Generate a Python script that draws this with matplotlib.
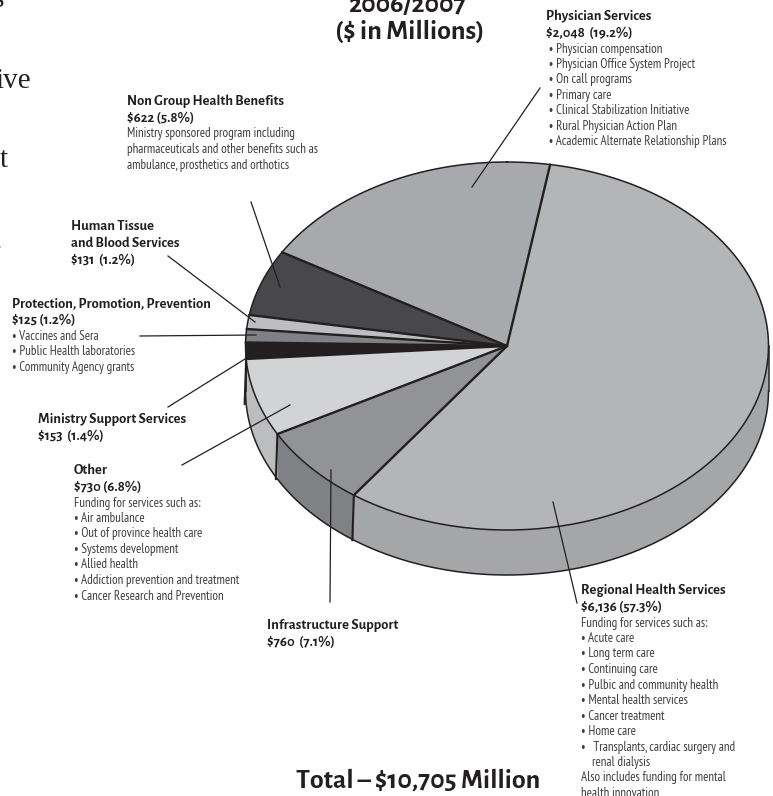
#!/usr/bin/env python3
"""Health budget pie for 2006/2007, drawn as a tilted disc with callouts."""

import numpy as np
import matplotlib

matplotlib.use("Agg")
import matplotlib.pyplot as plt

categories = [
    "Regional Health Services",
    "Infrastructure Support",
    "Other",
    "Ministry Support Services",
    "Protection, Promotion, Prevention",
    "Human Tissue and Blood Services",
    "Non Group Health Benefits",
    "Physician Services",
]
amounts = [6136, 760, 730, 153, 125, 131, 622, 2048]
shares = ["57.3%", "7.1%", "6.8%", "1.4%", "1.2%", "1.2%", "5.8%", "19.2%"]

regional_notes = [
    "Funding for services such as:",
    "• Acute care",
    "• Long term care",
    "• Continuing care",
    "• Pulbic and community health",
    "• Mental health services",
    "• Cancer treatment",
    "• Home care",
    "•   Transplants, cardiac surgery and",
    "    renal dialysis",
    "Also includes funding for mental",
    "health innovation",
]
other_notes = [
    "Funding for services such as:",
    "• Air ambulance",
    "• Out of province health care",
    "• Systems development",
    "• Allied health",
    "• Addiction prevention and treatment",
    "• Cancer Research and Prevention",
]
protection_notes = [
    "• Vaccines and Sera",
    "• Public Health laboratories",
    "• Community Agency grants",
]
benefit_notes = [
    "Ministry sponsored program including",
    "pharmaceuticals and other benefits such as",
    "ambulance, prosthetics and orthotics",
]
physician_notes = [
    " • Physician compensation",
    " • Physician Office System Project",
    " • On call programs",
    " • Primary care",
    " • Clinical Stabilization Initiative",
    " • Rural Physician Action Plan",
    " • Academic Alternate Relationship Plans",
]

top_colors = ["#b4b5b7", "#929396", "#d2d3d5", "#231f20",
              "#808184", "#bcbec0", "#48484a", "#a7a9ac"]
side_colors = ["#a5a6a8", "#808184", "#bcbdbf", "#231f20",
               "#6d6e71", "#a7a9ac", "#3a3a3c", "#939598"]

INK = "#231f20"
BODY = "#3f3f41"
FONT = ["Alegreya Sans", "Lato"]
NOTE_FONT = ["PT Sans Narrow", "Open Sans Condensed", "Lato"]

# Disc geometry, in figure pixels
CX, CY = 507.0, 346.0
RX, RY = 261.5, 184.0
DEPTH = 45.0
START = 9.5  # degrees clockwise from twelve o'clock


def rim(t_deg, drop=0.0):
    t = np.radians(t_deg)
    return CX + RX * np.sin(t), CY - RY * np.cos(t) + drop


def callout(ax, x, y, heads, notes=(), head_size=10.5, note_size=9.3, gap=15.5):
    for line in heads:
        ax.text(x, y, line, fontsize=head_size, fontweight="bold", color=INK,
                family=FONT, va="baseline")
        y += 17
    y -= 1.5
    for line in notes:
        ax.text(x, y, line, fontsize=note_size, color=BODY, family=NOTE_FONT, va="baseline")
        y += gap


def main():
    fig = plt.figure(figsize=(7.73, 7.96), dpi=100)
    ax = fig.add_axes([0, 0, 1, 1])
    ax.set_xlim(0, 773)
    ax.set_ylim(796, 0)
    ax.axis("off")

    sweep = np.array(amounts) / sum(amounts) * 360.0
    edges = START + np.concatenate([[0], np.cumsum(sweep)])

    # Side wall: only the part of the rim facing the viewer shows
    for i in range(len(amounts)):
        a, b = max(edges[i], 90.0), min(edges[i + 1], 270.0)
        if a >= b:
            continue
        t = np.linspace(a, b, 120)
        xs, ys = rim(t)
        xs2, ys2 = rim(t[::-1], DEPTH)
        ax.fill(np.r_[xs, xs2], np.r_[ys, ys2], color=side_colors[i], lw=0, zorder=1)
        if 90.0 < edges[i] < 270.0:
            x0, y0 = rim(edges[i])
            ax.plot([x0, x0 - 1.5], [y0, y0 + DEPTH], color=INK, lw=1.5, zorder=2)

    t = np.linspace(90, 270, 300)
    ax.plot(*rim(t, DEPTH), color=INK, lw=1.1, zorder=2)
    ax.plot(*rim(np.array([90.0, 90.0]), np.array([0.0, DEPTH])), color=INK, lw=1.1, zorder=2)
    ax.plot(*rim(np.array([270.0, 270.0]), np.array([0.0, DEPTH])), color=INK, lw=1.1, zorder=2)

    # Top face
    for i in range(len(amounts)):
        t = np.linspace(edges[i], edges[i + 1], 200)
        xs, ys = rim(t)
        ax.fill(np.r_[CX, xs], np.r_[CY, ys], color=top_colors[i], lw=0, zorder=3)
    for e in edges[:-1]:
        x0, y0 = rim(e)
        ax.plot([CX, x0], [CY, y0], color=INK, lw=1.7, zorder=4, solid_capstyle="round")
    t = np.linspace(0, 360, 600)
    ax.plot(*rim(t), color=INK, lw=1.1, zorder=4)

    # Leader lines
    leaders = [
        ((472, 187), (540, 88)),
        ((251, 202), (280, 287)),
        ((168, 256), (255, 322)),
        ((140, 336), (256, 335)),
        ((168, 407), (245, 359)),
        ((182, 465), (290, 405)),
        ((331, 470), (330, 602)),
        ((553, 502), (577, 603)),
    ]
    for p, q in leaders:
        ax.plot([p[0], q[0]], [p[1], q[1]], color=INK, lw=0.9, zorder=5)

    def money(i, sep="  "):
        return f"${amounts[i]:,}{sep}({shares[i]})"

    callout(ax, 581, 594, [categories[0], money(0, " ")], regional_notes)
    callout(ax, 267, 629, [categories[1], money(1)])
    callout(ax, 74, 474, [categories[2], money(2, " ")], other_notes)
    callout(ax, 38, 423, [categories[3], money(3)])
    callout(ax, 12, 307, [categories[4], money(4, " ")], protection_notes)
    callout(ax, 71, 230, ["Human Tissue", "and Blood Services", money(5)])
    callout(ax, 127, 105, [categories[6], money(6, " ")], benefit_notes)
    callout(ax, 546, 20, [categories[7], money(7)], physician_notes)

    # Headings
    ax.text(408, 12, "2006/2007", fontsize=20, fontweight="bold", color=INK,
            family=FONT, ha="center", va="baseline")
    ax.text(410, 39, "($ in Millions)", fontsize=20, fontweight="bold", color=INK,
            family=FONT, ha="center", va="baseline")
    ax.text(296, 788, f"Total – ${sum(amounts):,} Million", fontsize=20,
            fontweight="bold", color=INK, family=FONT, va="baseline")

    # Tail ends of the neighbouring column of body copy
    for x, y, s in [(4, 7, "s"), (31, 88, "ive"), (8, 167, "t"), (1.5, 249, ".")]:
        ax.text(x, y, s, fontsize=21, color=INK, family="Liberation Serif",
                ha="right", va="baseline")

    fig.savefig("out.png", dpi=100, facecolor="white")


if __name__ == "__main__":
    main()
